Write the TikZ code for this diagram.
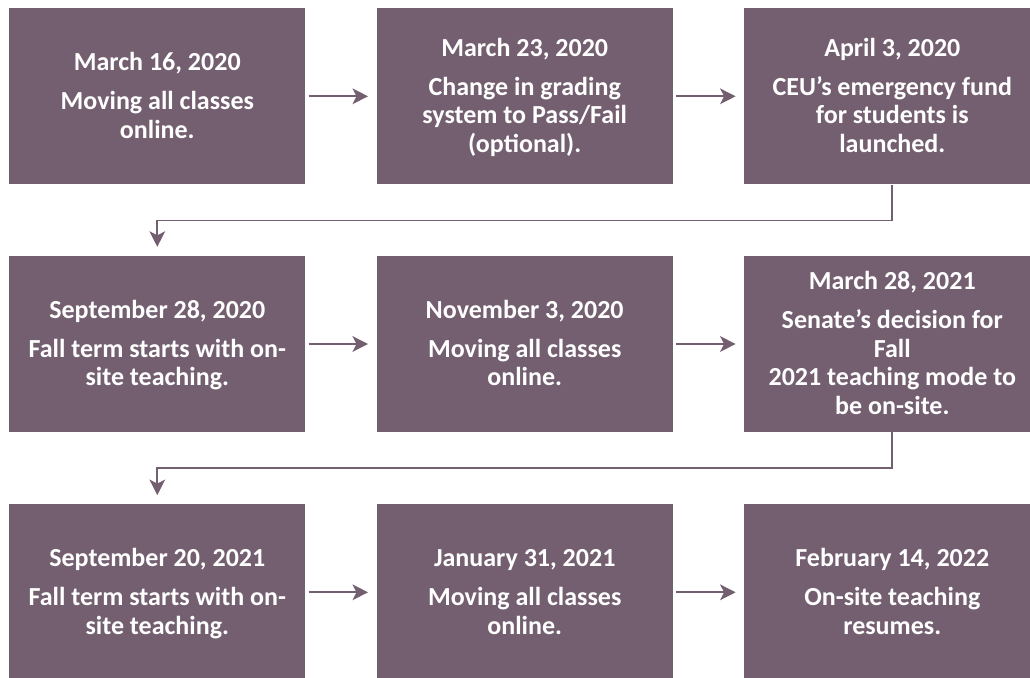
\documentclass[tikz,border=0pt]{standalone}
\usepackage{fontspec}
\setmainfont{Carlito}
\usetikzlibrary{arrows.meta}
\definecolor{plum}{RGB}{116,95,112}
\newcommand\ls{\rule[-6.2pt]{0pt}{28.5pt}}
\tikzset{
  box/.style={fill=plum, draw=none, minimum width=296pt, minimum height=176pt, inner sep=0pt,
    align=center, text=white, font=\fontsize{26}{28.5}\selectfont\bfseries},
  conn/.style={draw=plum, line width=1.7pt, -{Stealth[length=15.5pt,width=15.7pt,inset=4pt]}},
}
\begin{document}
\begin{tikzpicture}[x=1pt,y=-1pt]
\useasboundingbox (0,0) rectangle (1030,677);
\clip (0,0) rectangle (1030,677);
\node[box] (b1) at (157.3,96.3) {\ls March 16, 2020\\[10.5pt]\ls Moving all classes\\\ls online.};
\node[box] (b2) at (524.7,96.3) {\ls March 23, 2020\\[10.5pt]\ls Change in grading\\\ls system to Pass/Fail\\\ls (optional).};
\node[box] (b3) at (892.3,96.3) {\ls April 3, 2020\\[10.5pt]\ls CEU’s emergency fund\\\ls for students is\\\ls launched.};
\node[box] (b4) at (157.3,344) {\ls September 28, 2020\\[10.5pt]\ls Fall term starts with on-\\\ls site teaching.};
\node[box] (b5) at (524.7,344) {\ls November 3, 2020\\[10.5pt]\ls Moving all classes\\\ls online.};
\node[box] (b6) at (892.3,344) {\ls March 28, 2021\\[10.5pt]\ls Senate’s decision for\\\ls Fall\\\ls 2021 teaching mode to\\\ls be on-site.};
\node[box] (b7) at (157.3,592.3) {\ls September 20, 2021\\[10.5pt]\ls Fall term starts with on-\\\ls site teaching.};
\node[box] (b8) at (524.7,592.3) {\ls January 31, 2021\\[10.5pt]\ls Moving all classes\\\ls online.};
\node[box] (b9) at (892.3,592.3) {\ls February 14, 2022\\[10.5pt]\ls On-site teaching\\\ls resumes.};
\draw[conn, shorten <=3pt, shorten >=8.5pt] (b1) -- (b2);
\draw[conn, shorten <=3pt, shorten >=8.5pt] (b2) -- (b3);
\draw[conn, shorten <=3pt, shorten >=8.5pt] (b4) -- (b5);
\draw[conn, shorten <=3pt, shorten >=8.5pt] (b5) -- (b6);
\draw[conn, shorten <=3pt, shorten >=8.5pt] (b7) -- (b8);
\draw[conn, shorten <=3pt, shorten >=8.5pt] (b8) -- (b9);
\draw[conn, shorten >=9pt] (b3.south) -- ++(0,36) -| (b4.north);
\draw[conn, shorten >=9pt] (b6.south) -- ++(0,36) -| (b7.north);
\end{tikzpicture}
\end{document}
